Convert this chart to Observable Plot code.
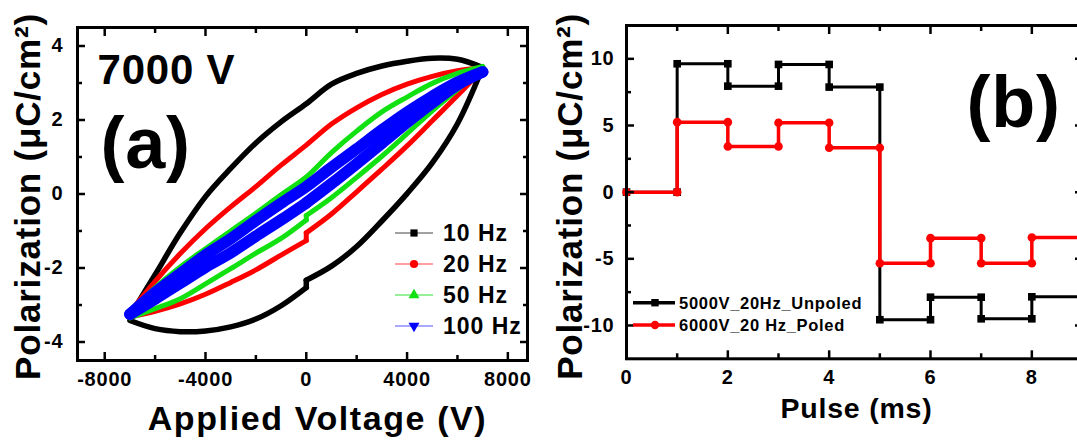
<!DOCTYPE html>
<html>
<head>
<meta charset="utf-8">
<script src="https://cdn.jsdelivr.net/npm/d3@7"></script>
<script src="https://cdn.jsdelivr.net/npm/@observablehq/plot@0.6"></script>
<style>
  html, body { margin: 0; padding: 0; background: #fff; overflow: hidden; }
  #wrap { position: relative; width: 1077px; height: 441px; overflow: hidden; background: #fff; }
  #wrap > svg { position: absolute; top: 0; }
</style>
</head>
<body>
<div id="wrap"></div>
<script>
// ---------------- Panel (a): P–V loops at 7000 V ----------------
const frequencies = ["10 Hz", "20 Hz", "50 Hz", "100 Hz"];
const voltsRising  = [-7000,-6000,-5000,-4000,-3000,-2000,-1000,0,1000,2000,3000,4000,5000,6000,7000];
// falling branch: first part 7000 → 0 (just above zero), second part 0 (just below) → -7000
const voltsFallingHigh = [7000,6000,5000,4000,3000,2000,1000,0];
const voltsFallingLow  = [0,-1000,-2000,-3000,-4000,-5000,-6000,-7000];

const pol10Rising      = [-3.30,-2.18,-1.05,-0.07,0.69,1.38,1.95,2.44,2.97,3.26,3.46,3.59,3.67,3.64,3.42];
const pol10FallingHigh = [3.42,1.90,0.84,0.01,-0.73,-1.42,-1.95,-2.33];
const pol10FallingLow  = [-2.53,-3.02,-3.38,-3.59,-3.70,-3.72,-3.64,-3.42];
const pol20Rising      = [-3.20,-2.36,-1.61,-0.94,-0.35,0.20,0.78,1.32,1.89,2.33,2.69,2.97,3.18,3.33,3.41];
const pol20FallingHigh = [3.38,2.66,1.98,1.30,0.67,0.06,-0.54,-1.05];
const pol20FallingLow  = [-1.26,-1.65,-2.05,-2.39,-2.71,-2.97,-3.17,-3.32];
const pol50Rising      = [-3.20,-2.53,-1.97,-1.48,-1.00,-0.52,-0.02,0.46,1.12,1.70,2.22,2.62,2.99,3.26,3.45];
const pol50FallingHigh = [3.40,2.82,2.25,1.63,1.02,0.45,-0.10,-0.58];
const pol50FallingLow  = [-0.70,-1.20,-1.60,-2.02,-2.43,-2.83,-3.10,-3.35];
const pol100Rising      = [-3.25,-2.66,-2.15,-1.65,-1.21,-0.72,-0.25,0.20,0.72,1.22,1.73,2.21,2.64,3.02,3.30];
const pol100FallingHigh = [3.30,2.95,2.46,1.93,1.37,0.82,0.28,-0.24];
const pol100FallingLow  = [-0.24,-0.70,-1.14,-1.59,-1.98,-2.41,-2.84,-3.25];

const voltMajorTicks = [-8000,-4000,0,4000,8000];
const voltMinorTicks = [-6000,-2000,2000,6000];
const polAMajorTicks = [-4,-2,0,2,4];
const polAMinorTicks = [-3,-1,1,3];

// ---------------- Panel (b): pulse response ----------------
const pulseSeries = ["5000V_20Hz_Unpoled", "6000V_20 Hz_Poled"];
const pulseBoundaries = [0,1,2,3,4,5,6,7,8,9];
const unpoledLevels = [0, 9.63, 7.95, 9.58, 7.88, -9.57, -7.88, -9.50, -7.85];
const poledLevels   = [0, 5.25, 3.43, 5.20, 3.33, -5.33, -3.45, -5.33, -3.40];

const pulseMajorTicks = [0,2,4,6,8];
const pulseMinorTicks = [1,3,5,7,9];
const polBMajorTicks = [-10,-5,0,5,10];
const polBMinorTicks = [-7.5,-2.5,2.5,7.5];

// ---------------- build tables ----------------
function loopRows(freq, rising, fallHigh, fallLow) {
  return [
    ...voltsRising.map((v, i) => ({freq, seg: "rise", V: v, P: rising[i]})),
    ...voltsFallingHigh.map((v, i) => ({freq, seg: "fallHigh", V: v, P: fallHigh[i]})),
    ...voltsFallingLow.map((v, i) => ({freq, seg: "fallLow", V: v, P: fallLow[i]}))
  ];
}
function jumpRows(freq, fallHigh, fallLow) {
  return [
    {freq, V: voltsFallingHigh[voltsFallingHigh.length - 1], P: fallHigh[fallHigh.length - 1]},
    {freq, V: voltsFallingLow[0], P: fallLow[0]}
  ];
}
const loops = [
  loopRows(frequencies[0], pol10Rising, pol10FallingHigh, pol10FallingLow),
  loopRows(frequencies[1], pol20Rising, pol20FallingHigh, pol20FallingLow),
  loopRows(frequencies[2], pol50Rising, pol50FallingHigh, pol50FallingLow),
  loopRows(frequencies[3], pol100Rising, pol100FallingHigh, pol100FallingLow)
];
const jumps = [
  jumpRows(frequencies[0], pol10FallingHigh, pol10FallingLow),
  jumpRows(frequencies[1], pol20FallingHigh, pol20FallingLow),
  jumpRows(frequencies[2], pol50FallingHigh, pol50FallingLow),
  jumpRows(frequencies[3], pol100FallingHigh, pol100FallingLow)
];
function stepRows(series, levels) {
  const rows = [];
  levels.forEach((p, i) => {
    rows.push({series, t: pulseBoundaries[i], P: p});
    rows.push({series, t: pulseBoundaries[i + 1], P: p});
  });
  return rows;
}
const unpoled = stepRows(pulseSeries[0], unpoledLevels);
const poled = stepRows(pulseSeries[1], poledLevels);

const FONT = '"Liberation Sans", Arial, Helvetica, sans-serif';
const fmt = d => String(d);
const blank = () => "";
const T = {fontWeight: "bold", fill: "#000", lineAnchor: "middle"};

function boxAxes(xMajor, xMinor, yMajor, yMinor, xDy, yDx) {
  const common = {label: null, stroke: "#000", strokeWidth: 2.5, tickFormat: blank};
  return [
    Plot.axisX({...common, anchor: "bottom", ticks: xMajor, tickSize: -8}),
    Plot.axisX({...common, anchor: "bottom", ticks: xMinor, tickSize: -5}),
    Plot.axisX({...common, anchor: "top", ticks: xMajor, tickSize: -8}),
    Plot.axisX({...common, anchor: "top", ticks: xMinor, tickSize: -5}),
    Plot.axisY({...common, anchor: "left", ticks: yMajor, tickSize: -8}),
    Plot.axisY({...common, anchor: "left", ticks: yMinor, tickSize: -5}),
    Plot.axisY({...common, anchor: "right", ticks: yMajor, tickSize: -8}),
    Plot.axisY({...common, anchor: "right", ticks: yMinor, tickSize: -5}),
    // tick labels
    Plot.text(xMajor, {...T, x: d => d, text: fmt, frameAnchor: "bottom", textAnchor: "middle", dy: xDy, fontSize: 20}),
    Plot.text(yMajor, {...T, y: d => d, text: fmt, frameAnchor: "left", textAnchor: "end", dx: yDx, fontSize: 20}),
    Plot.frame({stroke: "#000", strokeWidth: 3})
  ];
}

const styleObj = {fontFamily: FONT, fontWeight: "bold", background: "transparent", letterSpacing: "0.8px", color: "#000"};

const plotA = Plot.plot({
  width: 540, height: 441,
  marginLeft: 77, marginRight: 13, marginTop: 27, marginBottom: 81,
  x: {domain: [-9080, 8780]},
  y: {domain: [-4.5, 4.5]},
  style: styleObj,
  marks: [
    Plot.line(loops[0], {x: "V", y: "P", z: "seg", stroke: "#000000", strokeWidth: 5.5, curve: "catmull-rom"}),
    Plot.line(jumps[0], {x: "V", y: "P", stroke: "#000000", strokeWidth: 5.5}),
    Plot.line(loops[1], {x: "V", y: "P", z: "seg", stroke: "#ff0000", strokeWidth: 5, curve: "catmull-rom"}),
    Plot.line(jumps[1], {x: "V", y: "P", stroke: "#ff0000", strokeWidth: 5}),
    Plot.line(loops[2], {x: "V", y: "P", z: "seg", stroke: "#11e011", strokeWidth: 5, curve: "catmull-rom"}),
    Plot.line(jumps[2], {x: "V", y: "P", stroke: "#11e011", strokeWidth: 5}),
    Plot.line(loops[3], {x: "V", y: "P", z: "seg", stroke: "#0000ff", strokeWidth: 11.5, curve: "catmull-rom"}),
    ...boxAxes(voltMajorTicks, voltMinorTicks, polAMajorTicks, polAMinorTicks, 18.6, -14),
    Plot.text(["Polarization (μC/cm²)"], {...T, text: d => d, frameAnchor: "left", textAnchor: "middle", dx: -49, dy: 2.5, rotate: -90, fontSize: 35}),
    Plot.text(["Applied Voltage (V)"], {...T, text: d => d, frameAnchor: "bottom", textAnchor: "middle", dx: 15, dy: 59, fontSize: 34}),
    Plot.text(["7000 V"], {...T, text: d => d, frameAnchor: "top-left", textAnchor: "start", dx: 20, dy: 43, fontSize: 42}),
    Plot.text(["(a)"], {...T, text: d => d, frameAnchor: "top-left", textAnchor: "start", dx: 23, dy: 117, fontSize: 72})
  ]
});
plotA.style.left = "0px";

const plotB = Plot.plot({
  width: 560, height: 441,
  marginLeft: 86, marginRight: 18, marginTop: 25, marginBottom: 82.7,
  x: {domain: [0, 9]},
  y: {domain: [-12.5, 12.5]},
  style: styleObj,
  marks: [
    Plot.line(unpoled, {x: "t", y: "P", stroke: "#000", strokeWidth: 3}),
    Plot.dot(unpoled, {x: "t", y: "P", symbol: "square", r: 4.3, fill: "#000", stroke: "none"}),
    Plot.line(poled, {x: "t", y: "P", stroke: "#ff0000", strokeWidth: 3.5}),
    Plot.dot(poled, {x: "t", y: "P", symbol: "circle", r: 4.3, fill: "#ff0000", stroke: "none"}),
    ...boxAxes(pulseMajorTicks, pulseMinorTicks, polBMajorTicks, polBMinorTicks, 18.6, -12),
    Plot.text(["Polarization (μC/cm²)"], {...T, text: d => d, frameAnchor: "left", textAnchor: "middle", dx: -56, dy: 4.3, rotate: -90, fontSize: 35}),
    Plot.text(["Pulse (ms)"], {...T, text: d => d, frameAnchor: "bottom", textAnchor: "middle", dx: 2, dy: 49.6, fontSize: 28.5}),
    Plot.text(["(b)"], {...T, text: d => d, frameAnchor: "top-left", textAnchor: "start", dx: 340, dy: 78, fontSize: 72})
  ]
});
plotB.style.left = "540px";

// widen the large titles slightly, as in the (horizontally stretched) original
d3.select(plotA).selectAll("text").filter(function () { return this.textContent === "Applied Voltage (V)"; })
  .style("letter-spacing", "1.6px");

const wrap = document.getElementById("wrap");
wrap.appendChild(plotA);
wrap.appendChild(plotB);

// ---------------- legends (overlay) ----------------
const ov = d3.create("svg").attr("width", 1077).attr("height", 441)
  .style("position", "absolute").style("left", "0px").style("top", "0px")
  .style("font-family", FONT).style("font-weight", "bold");

const legA = [
  {label: frequencies[0], line: "#444", fill: "#000", sym: d3.symbolSquare, rot: 0},
  {label: frequencies[1], line: "#ff4040", fill: "#ff0000", sym: d3.symbolCircle, rot: 0},
  {label: frequencies[2], line: "#30e030", fill: "#11e011", sym: d3.symbolTriangle, rot: 0},
  {label: frequencies[3], line: "#5555ff", fill: "#0000ff", sym: d3.symbolTriangle, rot: 180}
];
legA.forEach((d, i) => {
  const cy = 233 + i * 31;
  ov.append("line").attr("x1", 395).attr("x2", 433).attr("y1", cy).attr("y2", cy)
    .attr("stroke", d.line).attr("stroke-width", 1.2);
  ov.append("path").attr("d", d3.symbol(d.sym, 52)())
    .attr("transform", `translate(414,${cy}) rotate(${d.rot})`).attr("fill", d.fill);
  ov.append("text").attr("x", 443).attr("y", cy + 8).attr("font-size", 23)
    .style("letter-spacing", "1px").attr("fill", "#000").text(d.label);
});

const legB = [
  {label: pulseSeries[0], color: "#000", sym: d3.symbolSquare},
  {label: pulseSeries[1], color: "#ff0000", sym: d3.symbolCircle}
];
legB.forEach((d, i) => {
  const cy = 302.7 + i * 22.3;
  ov.append("line").attr("x1", 633).attr("x2", 675).attr("y1", cy).attr("y2", cy)
    .attr("stroke", d.color).attr("stroke-width", 3.5);
  ov.append("path").attr("d", d3.symbol(d.sym, 55)())
    .attr("transform", `translate(655,${cy})`).attr("fill", d.color);
  ov.append("text").attr("x", 679).attr("y", cy + 5.8).attr("font-size", 16.5)
    .style("letter-spacing", "0.7px").attr("fill", "#000").text(d.label);
});
wrap.appendChild(ov.node());
</script>
</body>
</html>
